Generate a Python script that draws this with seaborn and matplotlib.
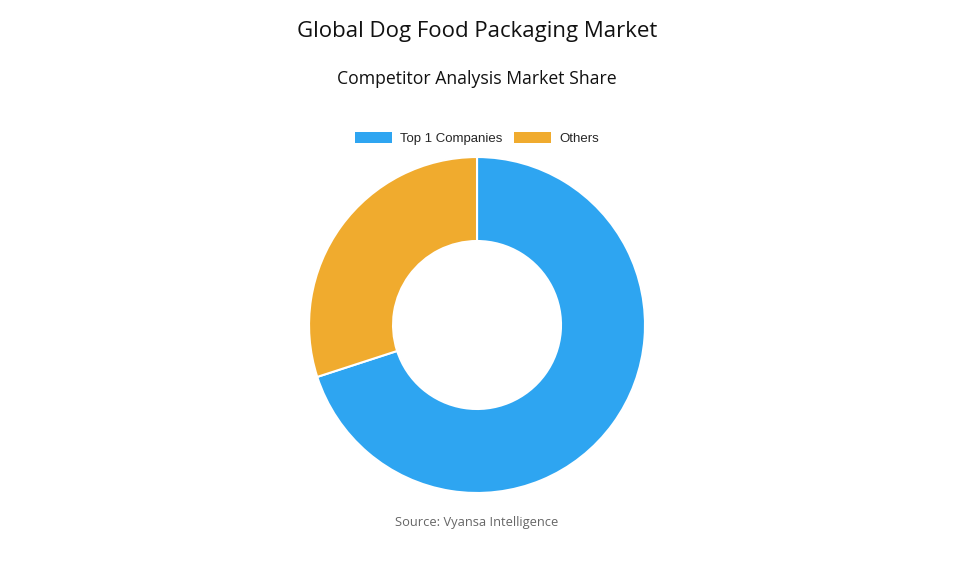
import matplotlib
matplotlib.use("Agg")
import matplotlib.pyplot as plt
import seaborn as sns
from matplotlib.patches import Patch

companies = ["Top 1 Companies", "Others"]
shares = [70, 30]
colors = ["#2EA5F1", "#F0AB2E"]

sns.set_theme(style="white")
plt.rcParams["font.family"] = ["Open Sans", "DejaVu Sans"]

fig = plt.figure(figsize=(9.55, 5.73), dpi=100)
ax = fig.add_axes([0.3236, 0.1396, 0.3518, 0.5864])

ax.pie(shares, colors=colors, startangle=90, counterclock=False,
       wedgeprops=dict(width=0.5, edgecolor="white", linewidth=1.5))
ax.set_xlim(-1, 1)
ax.set_ylim(-1, 1)
ax.set_aspect("equal")
ax.axis("off")

fig.text(0.4995, 0.945, "Global Dog Food Packaging Market", ha="center", va="center",
         fontsize=16, fontweight="medium", color="#111111")
fig.text(0.4995, 0.862, "Competitor Analysis Market Share", ha="center", va="center",
         fontsize=12.7, color="#111111")
fig.text(0.4995, 0.089, "Source: Vyansa Intelligence", ha="center", va="center",
         fontsize=9.3, color="#666666")

handles = [Patch(facecolor=c, edgecolor="none") for c in colors]
fig.legend(handles, companies, loc="center", bbox_to_anchor=(0.4995, 0.759), ncol=2,
           frameon=False, handlelength=2.8, handleheight=0.9, columnspacing=0.9,
           handletextpad=0.6, prop={"family": "Liberation Sans", "size": 9.5})

fig.savefig("out.png", dpi=100, facecolor="white")
